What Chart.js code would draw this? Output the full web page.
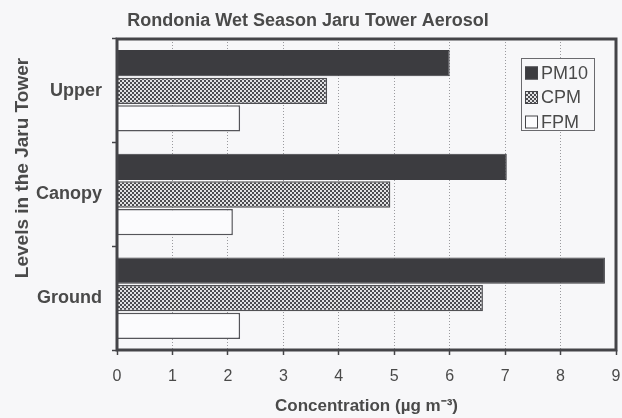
<!DOCTYPE html>
<html>
<head>
<meta charset="utf-8">
<script src="https://cdn.jsdelivr.net/npm/chart.js@4"></script>
<style>
  html, body { margin: 0; padding: 0; background: #f7f7f9; }
  #wrap { width: 622px; height: 418px; }
</style>
</head>
<body>
<div id="wrap"><canvas id="bar-chart" width="622" height="418"></canvas></div>
<script>
// datos
const levels = ["Upper", "Canopy", "Ground"];
const pm10 = [6.0, 7.03, 8.8];
const cpm = [3.79, 4.93, 6.6];
const fpm = [2.22, 2.09, 2.22];
const xTicks = [0, 1, 2, 3, 4, 5, 6, 7, 8, 9];

const textColor = "#4a4a4a";
const frameColor = "#444448";
const fontFamily = "'Liberation Sans', Arial, sans-serif";

// patron cuadriculado para CPM
const patternCanvas = document.createElement("canvas");
patternCanvas.width = 4;
patternCanvas.height = 4;
const pctx = patternCanvas.getContext("2d");
pctx.fillStyle = "#e2e2e4";
pctx.fillRect(0, 0, 4, 4);
pctx.fillStyle = "#4c4c50";
pctx.fillRect(0, 0, 2, 2);
pctx.fillRect(2, 2, 2, 2);
const checker = pctx.createPattern(patternCanvas, "repeat");

// marco grueso, leyenda y titulo vertical
const extras = {
  id: "extras",
  afterDatasetsDraw(chart) {
    const ctx = chart.ctx;
    const a = chart.chartArea;
    ctx.save();
    ctx.strokeStyle = frameColor;
    ctx.lineWidth = 3;
    ctx.strokeRect(a.left, a.top, a.right - a.left, a.bottom - a.top);

    // leyenda
    const lx = 521, ly = 58, lw = 73, lh = 72;
    ctx.fillStyle = "#f7f7f9";
    ctx.fillRect(lx, ly, lw, lh);
    ctx.strokeStyle = "#6a6a6e";
    ctx.lineWidth = 1;
    ctx.strokeRect(lx + 0.5, ly + 0.5, lw, lh);
    ctx.font = "18px " + fontFamily;
    ctx.textBaseline = "middle";
    chart.data.datasets.forEach((ds, i) => {
      const y = ly + 15 + i * 24.5;
      ctx.fillStyle = ds.backgroundColor;
      ctx.fillRect(lx + 4, y - 6.5, 13, 13);
      ctx.strokeStyle = frameColor;
      ctx.strokeRect(lx + 4.5, y - 6, 12, 12);
      ctx.fillStyle = textColor;
      ctx.fillText(ds.label, lx + 20, y + 1);
    });

    // titulo del eje y
    ctx.translate(23, 168);
    ctx.rotate(-Math.PI / 2);
    ctx.font = "bold 19px " + fontFamily;
    ctx.textAlign = "center";
    ctx.fillStyle = textColor;
    ctx.fillText("Levels in the Jaru Tower", 0, 0);
    ctx.restore();
  },
};

const contenedor = document.querySelector("#bar-chart").getContext("2d");

const barChart = new Chart(contenedor, {
  type: "bar",
  data: {
    labels: levels,
    datasets: [
      {
        label: "PM10",
        data: pm10,
        backgroundColor: "#3c3c40",
        borderColor: "#3c3c40",
        borderWidth: 1,
      },
      {
        label: "CPM",
        data: cpm,
        backgroundColor: checker,
        borderColor: "#505054",
        borderWidth: 1.5,
      },
      {
        label: "FPM",
        data: fpm,
        backgroundColor: "#fbfbfd",
        borderColor: "#55555a",
        borderWidth: 1.5,
      },
    ],
  },
  options: {
    indexAxis: "y",
    responsive: false,
    animation: false,
    categoryPercentage: 0.8,
    barPercentage: 0.95,
    layout: { padding: { left: 0, right: 6, top: 0, bottom: 0 } },
    plugins: {
      legend: { display: false },
      tooltip: { enabled: false },
      title: {
        display: true,
        text: "Rondonia Wet Season Jaru Tower Aerosol",
        color: textColor,
        font: { family: fontFamily, size: 18, weight: "bold" },
        padding: { top: 10, bottom: 7.4 },
      },
    },
    scales: {
      x: {
        min: 0,
        max: 9,
        afterBuildTicks: (scale) => {
          scale.ticks = xTicks.map((v) => ({ value: v }));
        },
        afterFit: (scale) => {
          scale.height = 68;
          scale.paddingLeft = 0;
          scale.paddingRight = 0;
        },
        ticks: {
          color: textColor,
          padding: 12,
          font: { family: fontFamily, size: 16 },
        },
        grid: {
          color: "#9a9a9e",
          lineWidth: 1,
          tickColor: frameColor,
          tickLength: 5,
          tickWidth: 1.5,
          tickBorderDash: [],
        },
        border: { display: false, dash: [1, 2] },
        title: {
          display: true,
          text: "Concentration (µg m⁻³)",
          color: textColor,
          font: { family: fontFamily, size: 17, weight: "bold" },
          padding: { top: 0, bottom: 1 },
        },
      },
      y: {
        afterFit: (scale) => {
          scale.width = 117;
        },
        ticks: {
          color: textColor,
          padding: 10,
          font: { family: fontFamily, size: 18, weight: "bold" },
        },
        grid: {
          offset: true,
          drawOnChartArea: false,
          tickColor: frameColor,
          tickLength: 5,
          tickWidth: 1.5,
        },
        border: { display: false },
      },
    },
  },
  plugins: [extras],
});
</script>
</body>
</html>
